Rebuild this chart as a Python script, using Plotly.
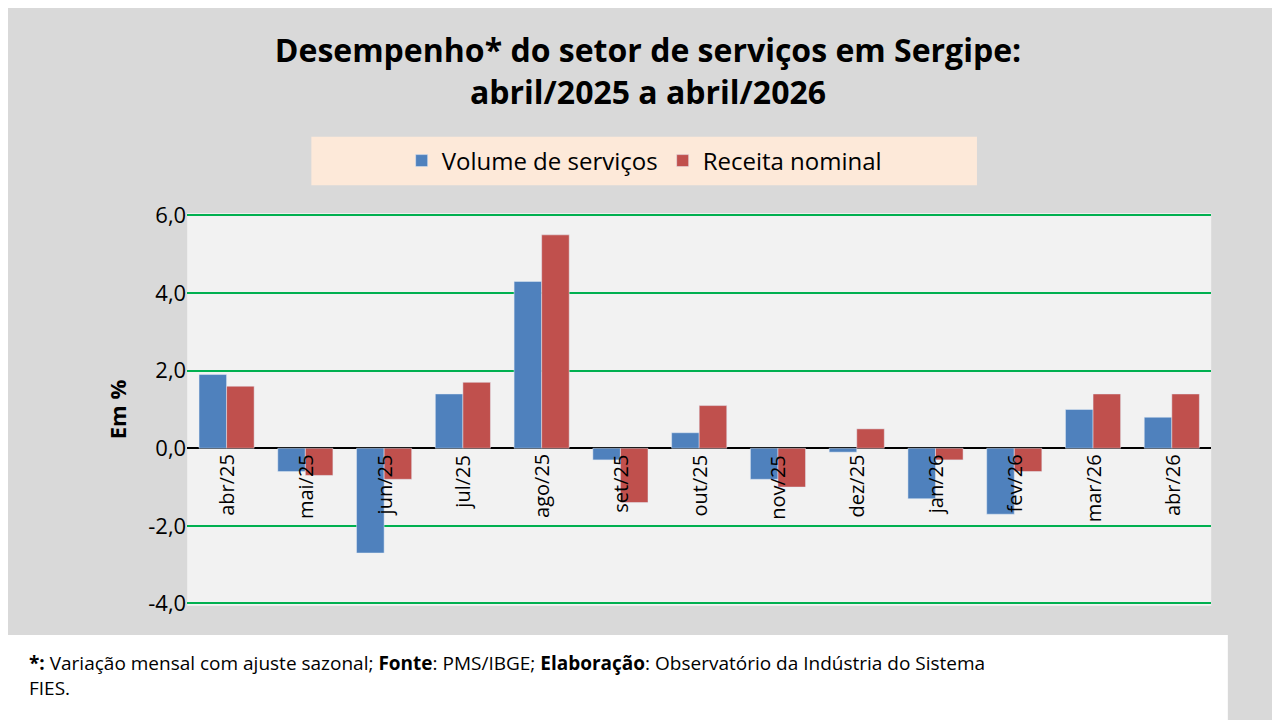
import plotly.graph_objects as go

months = ["abr/25", "mai/25", "jun/25", "jul/25", "ago/25", "set/25", "out/25",
          "nov/25", "dez/25", "jan/26", "fev/26", "mar/26", "abr/26"]
volume = [1.9, -0.6, -2.7, 1.4, 4.3, -0.3, 0.4, -0.8, -0.1, -1.3, -1.7, 1.0, 0.8]
receita = [1.6, -0.7, -0.8, 1.7, 5.5, -1.4, 1.1, -1.0, 0.5, -0.3, -0.6, 1.4, 1.4]
yticks = [-4, -2, 0, 2, 4, 6]

FONT = "Open Sans"

fig = go.Figure()
fig.add_trace(go.Bar(x=months, y=volume, name="Volume de serviços", marker_color="#4f81bd"))
fig.add_trace(go.Bar(x=months, y=receita, name="Receita nominal", marker_color="#c0504d"))

# month labels rotated, hanging from the zero line
for m in months:
    fig.add_annotation(x=m, y=0, text=m, textangle=-90, showarrow=False,
                       xanchor="center", yanchor="top", yshift=-4,
                       font=dict(size=20, color="black", family=FONT))

fig.add_shape(type="rect", xref="paper", yref="paper", x0=-0.01, x1=0.953, y0=-0.02, y1=0.118,
              fillcolor="white", line_width=0, layer="below")
fig.add_annotation(xref="paper", yref="paper", x=0.015, y=0.1, xanchor="left", yanchor="top",
                   showarrow=False, align="left",
                   text="<b>*:</b> Variação mensal com ajuste sazonal; <b>Fonte</b>: PMS/IBGE; "
                        "<b>Elaboração</b>: Observatório da Indústria do Sistema<br>FIES.",
                   font=dict(size=19, color="black", family=FONT))
fig.add_shape(type="rect", xref="paper", yref="paper", x0=0.237, x1=0.757, y0=0.765, y1=0.835,
              fillcolor="#fde9d9", line_width=0, layer="below")

fig.update_layout(
    width=1280, height=720,
    margin=dict(l=0, r=0, t=0, b=0),
    paper_bgcolor="#d9d9d9", plot_bgcolor="#f2f2f2",
    title=dict(text="<b>Desempenho* do setor de serviços em Sergipe:<br>abril/2025 a abril/2026</b>",
               x=0.5, y=0.925, xanchor="center", yanchor="middle",
               font=dict(size=32, color="black", family=FONT)),
    barmode="group", bargap=0.3, bargroupgap=0.0,
    legend=dict(orientation="h", x=0.497, y=0.8, xanchor="center", yanchor="middle",
                bgcolor="rgba(0,0,0,0)", font=dict(size=24, color="black", family=FONT)),
    xaxis=dict(domain=[0.14, 0.94], showticklabels=False, ticks="", showgrid=False),
    yaxis=dict(domain=[0.16, 0.725], range=[-4.06, 6.06], tickvals=yticks,
               ticktext=[f"{v:.1f}".replace(".", ",") for v in yticks],
               showgrid=True, gridcolor="#00b050", gridwidth=2,
               zeroline=True, zerolinecolor="black", zerolinewidth=2,
               title=dict(text="<b>Em %</b>", font=dict(size=22, color="black", family=FONT)),
               tickfont=dict(size=22, color="black", family=FONT)),
)

fig.write_html("out.html")
